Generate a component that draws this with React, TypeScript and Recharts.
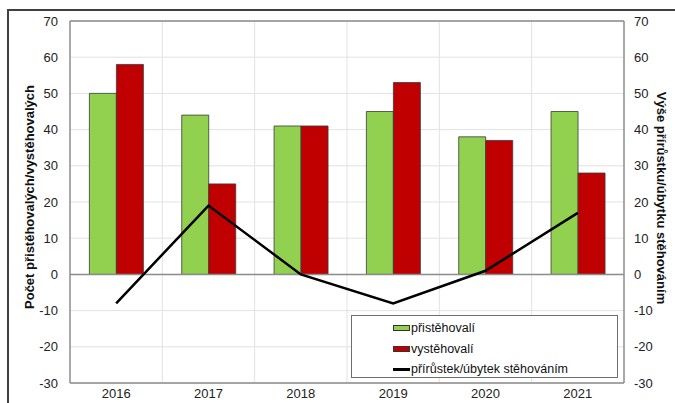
import React from "react";
import {
  ComposedChart,
  Bar,
  Line,
  XAxis,
  YAxis,
  CartesianGrid,
  ReferenceLine,
  Legend,
} from "recharts";

const years = ["2016", "2017", "2018", "2019", "2020", "2021"];
const immigrants = [50, 44, 41, 45, 38, 45];
const emigrants = [58, 25, 41, 53, 37, 28];
const netMigration = [-8, 19, 0, -8, 1, 17];
const majorTicks = [-30, -20, -10, 0, 10, 20, 30, 40, 50, 60, 70];
const minorTicks = [
  -30, -28, -26, -24, -22, -20, -18, -16, -14, -12, -10, -8, -6, -4, -2, 0, 2, 4,
  6, 8, 10, 12, 14, 16, 18, 20, 22, 24, 26, 28, 30, 32, 34, 36, 38, 40, 42, 44,
  46, 48, 50, 52, 54, 56, 58, 60, 62, 64, 66, 68, 70,
];

const seriesNames = {
  in: "přistěhovalí",
  out: "vystěhovalí",
  net: "přírůstek/úbytek stěhováním",
};

const data = years.map((y, i) => ({
  year: y,
  in: immigrants[i],
  out: emigrants[i],
  net: netMigration[i],
}));

const FONT = "'Liberation Sans', Arial, sans-serif";
const GREEN = "#92D050";
const RED = "#C00000";
const FRAME = "#8c8c8c";

const LegendBox = () => (
  <div
    style={{
      width: 267,
      height: 63,
      border: "1.5px solid #6e6e6e",
      background: "#fff",
      fontFamily: FONT,
      fontSize: 12.5,
      color: "#111",
      boxSizing: "border-box",
      paddingTop: 2,
      textAlign: "left",
    }}
  >
    {[
      { key: "in", type: "rect", color: GREEN },
      { key: "out", type: "rect", color: RED },
      { key: "net", type: "line", color: "#000" },
    ].map((it) => (
      <div
        key={it.key}
        style={{ display: "flex", alignItems: "center", height: 20.5, paddingLeft: 41 }}
      >
        {it.type === "rect" ? (
          <div
            style={{
              width: 17,
              height: 6,
              background: it.color,
              border: "1px solid #333",
              boxSizing: "border-box",
            }}
          />
        ) : (
          <div style={{ width: 17, height: 2.5, background: "#000" }} />
        )}
        <span style={{ marginLeft: 1 }}>{(seriesNames as any)[it.key]}</span>
      </div>
    ))}
  </div>
);

const LeftTitle = (props: any) => {
  const vb = props.viewBox || {};
  const cx = vb.x - 1;
  const cy = 197;
  return (
    <text
      x={cx}
      y={cy}
      transform={`rotate(-90 ${cx} ${cy})`}
      textAnchor="middle"
      dominantBaseline="central"
      fontFamily={FONT}
      fontWeight="bold"
      fontSize={13}
      fill="#111"
    >
      Počet přistěhovalých/vystěhovalých
    </text>
  );
};

const RightTitle = (props: any) => {
  const vb = props.viewBox || {};
  const cx = vb.x + 37;
  const cy = 198;
  return (
    <text
      x={cx}
      y={cy}
      transform={`rotate(90 ${cx} ${cy})`}
      textAnchor="middle"
      dominantBaseline="central"
      fontFamily={FONT}
      fontWeight="bold"
      fontSize={13}
      fill="#111"
    >
      Výše přírůstku/úbytku stěhováním
    </text>
  );
};

export default function App() {
  const tickStyle = { fontFamily: FONT, fontSize: 13, fill: "#222" };
  return (
    <div style={{ position: "absolute", left: 0, top: 0, width: 675, height: 403, background: "#fff" }}>
      <div style={{ position: "absolute", left: 0, top: 0 }}>
        <ComposedChart
          width={675}
          height={403}
          data={data}
          margin={{ top: 21, right: 11, bottom: 0, left: 30 }}
          barCategoryGap="21%"
          barGap={0}
        >
          <YAxis
            yAxisId="grid"
            orientation="right"
            hide
            width={0}
            domain={[-30, 70]}
            ticks={minorTicks}
            type="number"
          />
          <CartesianGrid yAxisId="grid" vertical={false} stroke="#efefef" strokeWidth={1} />
          <CartesianGrid
            yAxisId="left"
            horizontal={true}
            stroke="#e2e2e2"
            strokeWidth={1}
            verticalCoordinatesGenerator={({ offset }: any) =>
              [1, 2, 3, 4, 5].map((i) => offset.left + (i * offset.width) / years.length)
            }
          />
          <XAxis
            dataKey="year"
            axisLine={{ stroke: FRAME, strokeWidth: 1.5 }}
            tickLine={false}
            height={20}
            tick={tickStyle}
            tickSize={4}
            tickMargin={2}
          />
          <YAxis
            yAxisId="left"
            orientation="left"
            domain={[-30, 70]}
            ticks={majorTicks}
            type="number"
            width={40}
            axisLine={{ stroke: FRAME, strokeWidth: 1.5 }}
            tickLine={false}
            tickMargin={6}
            tick={tickStyle}
            label={<LeftTitle />}
          />
          <YAxis
            yAxisId="right"
            orientation="right"
            domain={[-30, 70]}
            ticks={majorTicks}
            type="number"
            width={40}
            axisLine={{ stroke: FRAME, strokeWidth: 1.5 }}
            tickLine={false}
            tickMargin={4}
            tick={{ ...tickStyle, textAnchor: "start" }}
            label={<RightTitle />}
          />
          <ReferenceLine yAxisId="left" y={70} stroke={FRAME} strokeWidth={1.5} />
          <Bar
            yAxisId="left"
            dataKey="in"
            name={seriesNames.in}
            fill={GREEN}
            stroke="#3a3a3a"
            strokeWidth={0.8}
            isAnimationActive={false}
          />
          <Bar
            yAxisId="left"
            dataKey="out"
            name={seriesNames.out}
            fill={RED}
            stroke="#3a3a3a"
            strokeWidth={0.8}
            isAnimationActive={false}
          />
          <ReferenceLine yAxisId="left" y={0} stroke={FRAME} strokeWidth={1.5} />
          <Line
            yAxisId="right"
            dataKey="net"
            name={seriesNames.net}
            stroke="#000"
            strokeWidth={2.5}
            dot={false}
            activeDot={false}
            type="linear"
            isAnimationActive={false}
          />
          <Legend
            verticalAlign="middle"
            align="center"
            content={<LegendBox />}
            wrapperStyle={{ position: "absolute", left: 351, top: 315, width: 267, height: 63 }}
          />
        </ComposedChart>
      </div>
      <div
        style={{
          position: "absolute",
          left: 7,
          top: 9,
          width: 668,
          height: 394,
          borderTop: "2px solid #404040",
          borderLeft: "2px solid #404040",
          boxSizing: "border-box",
          pointerEvents: "none",
        }}
      />
    </div>
  );
}
